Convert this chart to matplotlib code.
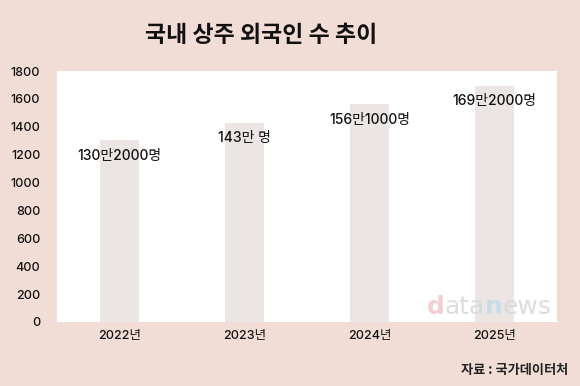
import matplotlib.pyplot as plt

plt.rcParams['font.family'] = ['Inter', 'Noto Sans CJK KR', 'DejaVu Sans']

# data
years = ['2022년', '2023년', '2024년', '2025년']
values = [1302, 1430, 1561, 1692]   # 단위: 천 명
labels = ['130만2000명', '143만 명', '156만1000명', '169만2000명']
y_ticks = [0, 200, 400, 600, 800, 1000, 1200, 1400, 1600, 1800]

bg = '#f2ddd6'
fig = plt.figure(figsize=(5.8, 3.86), dpi=100, facecolor=bg)
ax = fig.add_axes([57 / 580, (386 - 322) / 386, 500 / 580, 251 / 386])
ax.set_facecolor('white')

x = range(len(years))
ax.bar(x, values, width=0.31, color='#ebe6e3', zorder=2)
for xi, v, lab in zip(x, values, labels):
    ax.annotate(lab, (xi, v), xytext=(0, -11), textcoords='offset points',
                ha='center', va='center', fontsize=10, fontweight='medium',
                color='#111111', zorder=3)

ax.set_xlim(-0.5, 3.5)
ax.set_ylim(0, 1800)
ax.set_yticks(y_ticks)
ax.set_xticks(list(x))
ax.set_xticklabels(years)
ax.tick_params(length=0, labelsize=9, colors='#111111')
ax.tick_params(axis='y', pad=12)
ax.tick_params(axis='x', pad=6)
for lab in ax.get_xticklabels() + ax.get_yticklabels():
    lab.set_fontweight('medium')
for s in ax.spines.values():
    s.set_visible(False)

fig.text(261 / 580, 1 - 35 / 386, '국내 상주 외국인 수 추이', ha='center', va='center',
         fontsize=16.5, fontweight='bold', color='#111111',
         family=['Noto Sans CJK KR', 'DejaVu Sans'])
fig.text(568 / 580, 1 - 370 / 386, '자료 : 국가데이터처', ha='right', va='center',
         fontsize=9.5, fontweight='bold', color='#222222',
         family=['Noto Sans CJK KR', 'DejaVu Sans'])

# watermark
fig.canvas.draw()
renderer = fig.canvas.get_renderer()
parts = [('d', '#f3c9cc'), ('ata', '#d9d9d9'), ('n', '#c6dbe8'), ('ews', '#d9d9d9')]
xpos = 427
for txt, col in parts:
    t = fig.text(xpos / 580, 1 - 307 / 386, txt, ha='left', va='center', fontsize=18,
                 fontweight='bold' if txt in ('d', 'n') else 'normal',
                 color=col, family='DejaVu Sans', alpha=0.9)
    bb = t.get_window_extent(renderer)
    xpos += bb.width

fig.savefig('out.png', dpi=100, facecolor=bg)
